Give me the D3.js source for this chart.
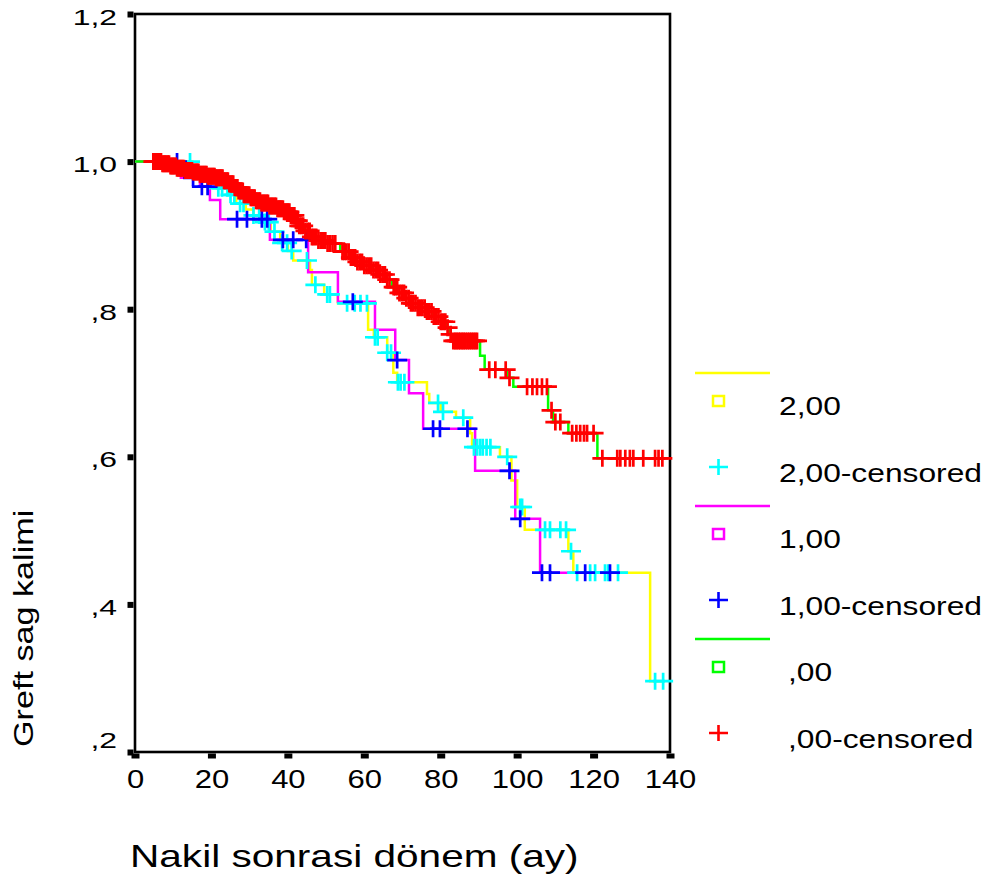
<!DOCTYPE html>
<html>
<head>
<meta charset="utf-8">
<script src="https://cdn.jsdelivr.net/npm/d3@7"></script>
<style>
  html, body { margin: 0; padding: 0; background: #ffffff; }
  svg { display: block; }
  text { font-family: "Liberation Sans", Arial, Helvetica, sans-serif; fill: #000; }
</style>
</head>
<body>
<script>
// ---------------- data ----------------
const timeTicks = [0, 20, 40, 60, 80, 100, 120, 140];
const survTicks = [0.2, 0.4, 0.6, 0.8, 1.0, 1.2];
const survTickLabels = [",2", ",4", ",6", ",8", "1,0", "1,2"];

const legendLabels = ["2,00", "2,00-censored", "1,00", "1,00-censored", ",00", ",00-censored"];

// group 2,00 (Kaplan-Meier step points: time, survival after the step)
const g2Time = [0, 15, 17, 19.5, 21.5, 24.5, 26.5, 29, 31, 33, 35.5, 38, 40, 41.4, 45.8, 46.3, 49.5, 53.1, 61, 62.5, 66, 67.6, 68.6, 76.4, 77, 80, 84, 87.7, 88.2, 95.5, 98.5, 100, 102, 113.4, 114.7, 134.8];
const g2Surv = [1.0, 0.99, 0.98, 0.972, 0.964, 0.955, 0.943, 0.935, 0.927, 0.918, 0.905, 0.89, 0.879, 0.866, 0.853, 0.833, 0.82, 0.808, 0.772, 0.762, 0.741, 0.714, 0.701, 0.685, 0.673, 0.661, 0.653, 0.632, 0.613, 0.600, 0.568, 0.532, 0.501, 0.472, 0.443, 0.296];
const g2End = 138.5;
const g2Censored = [14.4, 21.8, 22.8, 24.2, 25, 26, 27.5, 28.4, 31, 32.5, 34, 35, 36.5, 38.5, 39.8, 41, 45, 47.2, 50.3, 51, 55.5, 57.5, 59, 60.7, 62.8, 63.5, 66, 67, 68.8, 69.5, 70.5, 79.3, 80.6, 85.9, 88.7, 89.5, 90.3, 91, 92, 93, 97.4, 100.8, 101.3, 107.3, 108.6, 111.3, 112.8, 114.1, 115.7, 119.1, 120.4, 123, 123.8, 126.4, 136.1, 138.2];

// group 1,00
const g1Time = [0, 12, 17, 19.6, 22.3, 35.3, 45.3, 53.1, 62.8, 68.1, 71.7, 75.4, 89, 99.5, 106];
const g1Surv = [1.0, 0.978, 0.966, 0.948, 0.922, 0.894, 0.850, 0.810, 0.772, 0.731, 0.686, 0.638, 0.581, 0.516, 0.443];
const g1End = 124.3;
const g1Censored = [11, 15.2, 17.5, 19, 26.7, 29.3, 33.2, 34.6, 38.7, 41.4, 44.8, 57, 68.6, 78, 79.8, 87, 98, 100.8, 106.5, 108.6, 117.8, 124.3];

// group ,00
const g0Time = [0, 7, 9, 11, 13, 15, 17, 19, 21, 23, 24.5, 26, 27, 28.5, 30, 31.5, 33, 35, 37, 39, 40.5, 42, 43, 44.5, 46, 48, 50, 53.7, 56, 58, 60, 62, 64, 66, 67.3, 69, 70.5, 72, 74, 76, 78, 80, 81.5, 82.3, 83, 90.3, 91.5, 97.4, 99, 108.1, 109.4, 113.4, 121];
const g0Surv = [1.0, 0.997, 0.994, 0.991, 0.988, 0.986, 0.983, 0.980, 0.978, 0.974, 0.970, 0.965, 0.960, 0.955, 0.951, 0.947, 0.944, 0.940, 0.936, 0.932, 0.927, 0.920, 0.913, 0.906, 0.898, 0.893, 0.889, 0.878, 0.870, 0.864, 0.859, 0.853, 0.847, 0.840, 0.830, 0.822, 0.815, 0.808, 0.802, 0.797, 0.790, 0.783, 0.775, 0.766, 0.757, 0.737, 0.718, 0.707, 0.695, 0.663, 0.647, 0.632, 0.598];
const g0End = 138;
const g0Censored = [
  4.8, 5.1, 5.4, 5.8, 6.1, 6.4, 6.8, 7.2, 7.5, 7.9, 8.2, 8.6, 8.9, 9.3, 9.6, 10, 10.3, 10.7, 11, 11.4,
  11.7, 12.1, 12.4, 12.8, 13.1, 13.5, 13.8, 14.2, 14.5, 14.9, 15.2, 15.6, 15.9, 16.3, 16.6, 17, 17.3, 17.7, 18, 18.4,
  18.7, 19.1, 19.4, 19.8, 20.1, 20.5, 20.8, 21.2, 21.5, 21.9, 22.2, 22.6, 22.9, 23.3, 23.6, 24, 24.3, 24.7, 25, 25.4,
  25.7, 26.1, 26.4, 26.8, 27.1, 27.5, 27.8, 28.2, 28.5, 28.9, 29.2, 29.6, 29.9, 30.3, 30.6, 31, 31.3, 31.7, 32, 32.4,
  32.7, 33.1, 33.4, 33.8, 34.1, 34.5, 34.8, 35.2, 35.5, 35.9, 36.2, 36.6, 36.9, 37.3, 37.6, 38, 38.3, 38.7, 39, 39.4,
  39.7, 40.1, 40.4, 40.8, 41.2, 41.7, 42.1, 42.6, 43, 43.5, 44, 44.6, 45.2, 45.7, 46.3, 46.8, 47.4, 48, 48.6, 49.2,
  49.8, 50.4, 51, 51.7, 52.4,
  54.3, 54.8, 55.3, 55.9, 56.5, 57.1, 57.6, 58.2, 58.8, 59.4, 60, 60.6, 61.2, 61.8, 62.4, 63, 63.6, 64.2, 64.8, 65.4,
  66, 66.6, 67.7, 68.1, 68.6, 69.2, 69.8, 70.4, 71, 71.6, 72.2, 72.8, 73.4, 74, 74.6, 75.2, 75.8, 76.4, 77, 77.6,
  78.2, 78.8, 79.4, 80, 80.6, 81.2, 81.8, 82.6, 83.3, 83.8, 84.2, 84.7, 85.1, 85.6, 86, 86.5, 87, 87.5, 88, 88.5,
  89, 89.5, 92.7, 94.3, 97, 98, 102.6, 104, 105.2, 106.5, 107.8, 109, 110, 111.3, 114.4, 115.5, 116.5, 117.5, 118.3, 120,
  122.3, 126.2, 127, 128.3, 129.5, 130.4, 133, 136.1, 137, 138
];

const lineColors = ["#ffff00", "#ff00ff", "#00ff00"];
const markColors = ["#00ffff", "#0000ff", "#ff0000"];

// ---------------- chart ----------------
const W = 989, H = 888;
const svg = d3.select("body").append("svg").attr("width", W).attr("height", H);
svg.append("rect").attr("width", W).attr("height", H).attr("fill", "#fff");

const x = d3.scaleLinear().domain([0, 140]).range([135, 670]);
const y = d3.scaleLinear().domain([0.2, 1.2]).range([752, 14]);

// stretch text horizontally to match wide rendering of the reference font
function fit(sel, f, anchor) {
  sel.each(function () {
    const el = d3.select(this);
    const l = this.getComputedTextLength();
    const w = l * f;
    el.attr("textLength", w).attr("lengthAdjust", "spacingAndGlyphs");
    const x0 = +el.attr("x") || 0;
    if (anchor === "middle") el.attr("x", x0 - w / 2);
    else if (anchor === "end") el.attr("x", x0 - w);
    el.style("text-anchor", "start");
  });
}

// frame
svg.append("rect")
  .attr("x", x(0)).attr("y", y(1.2))
  .attr("width", x(140) - x(0)).attr("height", y(0.2) - y(1.2))
  .attr("fill", "none").attr("stroke", "#000").attr("stroke-width", 2.6);

// x axis
const xAxis = svg.append("g").attr("transform", `translate(0,${y(0.2)})`)
  .call(d3.axisBottom(x).tickValues(timeTicks).tickSize(0).tickFormat(d3.format("d")));
xAxis.select(".domain").remove();
xAxis.selectAll(".tick").append("rect")
  .attr("x", -4).attr("y", 1.5).attr("width", 8).attr("height", 5).attr("fill", "#000");
xAxis.selectAll("text")
  .attr("y", 36).attr("dy", null).attr("x", 0)
  .style("font-size", "25px").style("font-family", '"Liberation Sans", Arial, sans-serif').attr("fill", "#000");
fit(xAxis.selectAll("text"), 1.24, "middle");

// y axis
const yAxis = svg.append("g").attr("transform", `translate(${x(0)},0)`)
  .call(d3.axisLeft(y).tickValues(survTicks).tickSize(0).tickFormat((d, i) => survTickLabels[i]));
yAxis.select(".domain").remove();
yAxis.selectAll(".tick").append("rect")
  .attr("x", -7.5).attr("y", -3).attr("width", 6).attr("height", 6).attr("fill", "#000");
yAxis.selectAll("text")
  .attr("x", -18).attr("dy", null).attr("y", d => d === 0.2 ? -5 : 10)
  .style("font-size", "22px").style("font-family", '"Liberation Sans", Arial, sans-serif').attr("fill", "#000");
fit(yAxis.selectAll("text"), 1.45, "end");

// axis titles
const xt = svg.append("text").attr("x", 130).attr("y", 867)
  .style("font-size", "30.5px").text("Nakil sonrasi dönem (ay)");
fit(xt, 1.33, "start");
const yt = svg.append("text").attr("transform", "translate(33,747) rotate(-90)")
  .attr("x", 0).attr("y", 0)
  .style("font-size", "28px").text("Greft sag kalimi");
fit(yt, 1.22, "start");

// survival curves
function survAt(times, survs, t) {
  let s = survs[0];
  for (let i = 0; i < times.length; i++) if (times[i] <= t) s = survs[i];
  return s;
}
const groups = [
  { time: g2Time, surv: g2Surv, end: g2End, cens: g2Censored },
  { time: g1Time, surv: g1Surv, end: g1End, cens: g1Censored },
  { time: g0Time, surv: g0Surv, end: g0End, cens: g0Censored }
];
const line = d3.line().x(d => x(d[0])).y(d => y(d[1])).curve(d3.curveStepAfter);

const plot = svg.append("g");
groups.forEach((g, gi) => {
  const pts = g.time.map((t, i) => [t, g.surv[i]]);
  pts.push([g.end, g.surv[g.surv.length - 1]]);
  plot.append("path").datum(pts)
    .attr("d", line).attr("fill", "none")
    .attr("stroke", lineColors[gi]).attr("stroke-width", 2.5);
});
const pw = 20, ph = 17;
const plusPath = `M${-pw / 2},0H${pw / 2}M0,${-ph / 2}V${ph / 2}`;
groups.forEach((g, gi) => {
  plot.append("g").selectAll("path")
    .data(g.cens).join("path")
    .attr("transform", t => `translate(${x(t)},${y(survAt(g.time, g.surv, t))})`)
    .attr("d", plusPath).attr("fill", "none")
    .attr("stroke", markColors[gi]).attr("stroke-width", 2.7);
});

// legend
const legend = svg.append("g");
const rowY0 = 373, groupStep = 133;
[0, 1, 2].forEach(i => {
  const base = rowY0 + i * groupStep;
  legend.append("line").attr("x1", 695).attr("x2", 770).attr("y1", base).attr("y2", base)
    .attr("stroke", lineColors[i]).attr("stroke-width", 2.5);
  legend.append("rect").attr("x", 713).attr("y", base + 23).attr("width", 11).attr("height", 10)
    .attr("fill", "#fff").attr("stroke", lineColors[i]).attr("stroke-width", 2.5);
  legend.append("path").attr("transform", `translate(718.5,${base + 94})`)
    .attr("d", "M-9.5,0H9.5M0,-8V8").attr("fill", "none")
    .attr("stroke", markColors[i]).attr("stroke-width", 2.6);
  const tx = i === 2 ? 788 : 779;
  const t1 = legend.append("text").attr("x", tx).attr("y", base + 42)
    .style("font-size", "25px").text(legendLabels[i * 2]);
  const t2 = legend.append("text").attr("x", tx).attr("y", base + 109)
    .style("font-size", "25px").text(legendLabels[i * 2 + 1]);
  fit(t1, 1.27, "start");
  fit(t2, 1.27, "start");
});
</script>
</body>
</html>
